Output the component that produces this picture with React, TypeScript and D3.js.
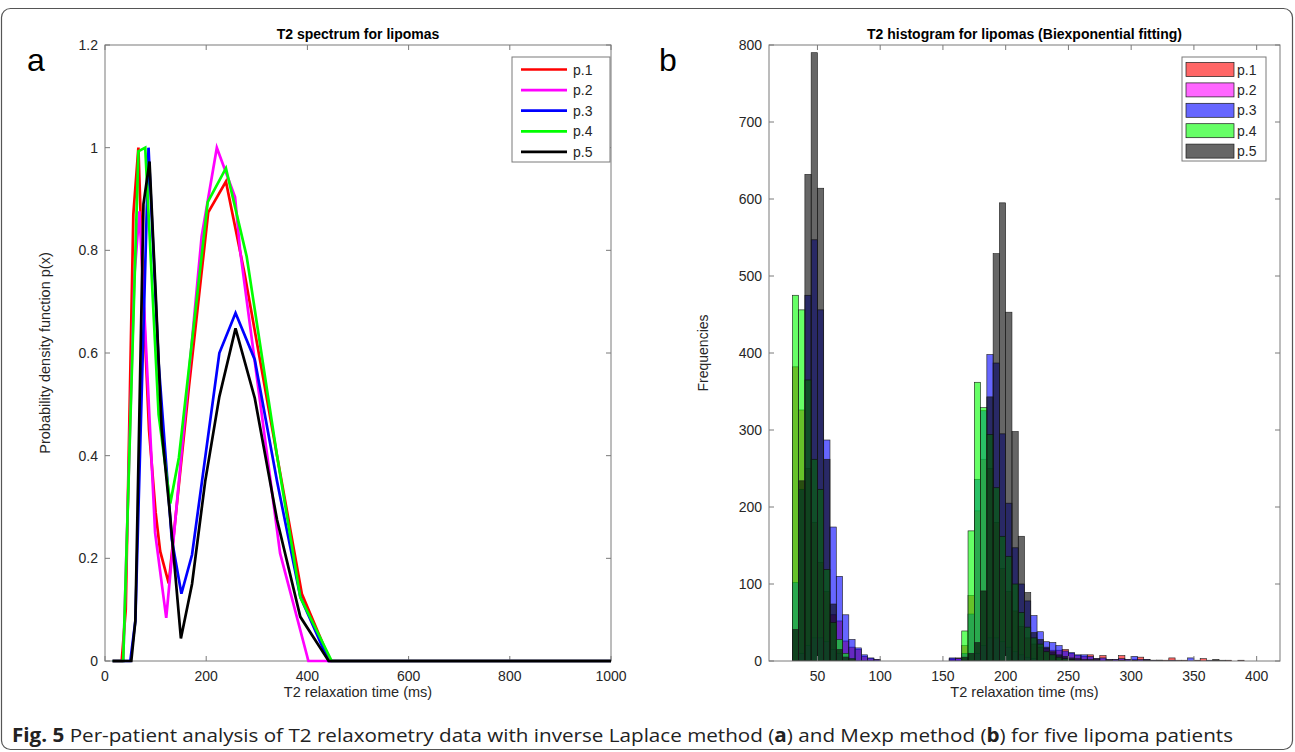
import React, { useEffect, useRef } from "react";
import * as d3 from "d3";

// patients and their colours (MATLAB default style)
const patients = ["p.1", "p.2", "p.3", "p.4", "p.5"];
const colors = ["#ff0000", "#ff00ff", "#0000ff", "#00ff00", "#000000"];

// panel a: T2 spectra, [T2 (ms), p(x)]
const spectrumP1 = [
  [15, 0], [33, 0], [41, 0.1], [56, 0.87], [66, 1.0], [76, 0.7], [87, 0.45], [100, 0.29],
  [109, 0.214], [126, 0.151], [166, 0.535], [204, 0.874], [239, 0.934], [276, 0.754],
  [340, 0.4], [389, 0.131], [445, 0], [1000, 0],
];
const spectrumP2 = [
  [15, 0], [36, 0], [45, 0.3], [58, 0.75], [68, 0.876], [99, 0.25], [121, 0.084],
  [191, 0.827], [221, 1.0], [257, 0.904], [267, 0.8], [346, 0.21], [402, 0], [1000, 0],
];
const spectrumP3 = [
  [15, 0], [50, 0], [60, 0.078], [86, 1.0], [106, 0.58], [132, 0.237], [151, 0.131],
  [172, 0.207], [226, 0.6], [258, 0.678], [296, 0.587], [340, 0.35], [386, 0.125],
  [442, 0], [1000, 0],
];
const spectrumP4 = [
  [15, 0], [36, 0], [66, 0.993], [79.5, 1.0], [106, 0.48], [129, 0.307], [146, 0.396],
  [203, 0.894], [239, 0.96], [280, 0.788], [340, 0.4], [386, 0.124], [448, 0], [1000, 0],
];
const spectrumP5 = [
  [15, 0], [52, 0], [60, 0.078], [76, 0.89], [88, 0.973], [100, 0.72], [112, 0.45],
  [129, 0.28], [150, 0.044], [172, 0.15], [198, 0.35], [226, 0.515], [258, 0.648],
  [296, 0.512], [340, 0.275], [386, 0.086], [442, 0], [1000, 0],
];
const spectra = [spectrumP1, spectrumP2, spectrumP3, spectrumP4, spectrumP5];
const xTicksA = [0, 200, 400, 600, 800, 1000];
const yTicksA = [0, 0.2, 0.4, 0.6, 0.8, 1, 1.2];

// panel b: histograms, [bin start (ms), count], bins 5 ms wide
const binWidth = 5;
const histP1 = [
  [30, 382], [35, 326], [40, 250], [45, 180], [50, 128], [55, 90], [60, 60], [65, 52],
  [70, 26], [75, 18], [80, 15], [85, 6], [90, 3], [95, 2],
  [155, 3], [160, 4], [165, 20], [170, 85], [175, 195], [180, 262], [185, 250], [190, 180],
  [195, 120], [200, 90], [205, 65], [210, 45], [215, 30], [220, 22], [225, 18], [230, 16],
  [235, 14], [240, 14], [245, 15], [250, 10], [255, 7], [260, 6], [265, 8], [270, 3],
  [275, 7], [280, 2], [285, 2], [290, 7], [295, 2], [300, 2], [305, 5], [310, 2], [315, 1],
  [320, 1], [325, 1], [330, 4], [335, 1], [340, 1], [350, 1], [355, 3], [365, 1], [375, 1],
  [385, 1],
];
const histP2 = [
  [35, 10], [40, 20], [45, 30], [50, 30], [55, 25], [60, 15], [65, 10], [70, 6], [75, 3],
  [155, 2], [160, 3], [175, 10], [180, 20], [185, 30], [190, 30], [195, 25], [200, 18],
  [205, 12], [210, 8], [215, 5], [220, 3],
];
const histP3 = [
  [30, 102], [35, 223], [40, 475], [45, 547], [50, 456], [55, 287], [60, 174], [65, 110],
  [70, 60], [75, 28], [80, 17], [85, 8], [90, 4], [95, 2],
  [155, 4], [160, 3], [165, 10], [170, 61], [175, 236], [180, 325], [185, 398], [190, 387],
  [195, 295], [200, 205], [205, 147], [210, 100], [215, 78], [220, 59], [225, 38], [230, 25],
  [235, 24], [240, 20], [245, 13], [250, 11], [255, 8], [260, 8], [265, 6], [270, 3],
  [275, 4], [280, 2], [285, 2], [290, 3], [295, 2], [300, 6], [305, 2], [310, 2], [315, 1],
  [320, 1], [330, 1], [345, 4], [360, 1],
];
const histP4 = [
  [30, 475], [35, 456], [40, 365], [45, 262], [50, 223], [55, 119], [60, 50], [65, 28],
  [70, 10], [75, 3],
  [165, 39], [170, 169], [175, 362], [180, 329], [185, 294], [190, 225], [195, 162],
  [200, 136], [205, 100], [210, 63], [215, 44], [220, 30], [225, 22], [230, 12], [235, 8],
  [240, 5], [245, 3], [250, 2],
];
const histP5 = [
  [30, 41], [35, 234], [40, 632], [45, 790], [50, 614], [55, 262], [60, 74], [65, 15],
  [70, 5], [75, 2],
  [165, 5], [170, 10], [175, 24], [180, 91], [185, 343], [190, 529], [195, 595], [200, 453],
  [205, 298], [210, 162], [215, 89], [220, 37], [225, 28], [230, 18], [235, 12], [240, 8],
  [245, 6], [250, 4], [255, 3], [260, 2], [265, 2], [270, 2], [280, 1], [290, 1], [300, 1],
  [310, 1], [320, 1], [365, 2], [370, 1],
];
const histograms = [histP1, histP2, histP3, histP4, histP5];
const xTicksB = [50, 100, 150, 200, 250, 300, 350, 400];
const yTicksB = [0, 100, 200, 300, 400, 500, 600, 700, 800];

const font = "'Liberation Sans', Arial, Helvetica, sans-serif";
const axisColor = "#7a7a7a";
const textColor = "#262626";

function drawFrame(svg, x, y, xTicks, yTicks) {
  const [x0, x1] = x.range();
  const [y0, y1] = y.range();
  const g = svg.append("g");
  const tick = 5;
  xTicks.forEach((t) => {
    const px = x(t);
    g.append("line").attr("x1", px).attr("x2", px).attr("y1", y0).attr("y2", y0 - tick)
      .attr("stroke", axisColor);
    g.append("line").attr("x1", px).attr("x2", px).attr("y1", y1).attr("y2", y1 + tick)
      .attr("stroke", axisColor);
    g.append("text").attr("x", px).attr("y", y0 + 20).attr("text-anchor", "middle")
      .attr("font-family", font).attr("font-size", 14).attr("fill", textColor).text(String(t));
  });
  yTicks.forEach((t) => {
    const py = y(t);
    g.append("line").attr("x1", x0).attr("x2", x0 + tick).attr("y1", py).attr("y2", py)
      .attr("stroke", axisColor);
    g.append("line").attr("x1", x1).attr("x2", x1 - tick).attr("y1", py).attr("y2", py)
      .attr("stroke", axisColor);
    g.append("text").attr("x", x0 - 7).attr("y", py + 5).attr("text-anchor", "end")
      .attr("font-family", font).attr("font-size", 14).attr("fill", textColor).text(String(t));
  });
  g.append("rect").attr("x", x0).attr("y", y1).attr("width", x1 - x0).attr("height", y0 - y1)
    .attr("fill", "none").attr("stroke", axisColor).attr("stroke-width", 1);
}

function App() {
  const ref = useRef(null);

  useEffect(() => {
    const svg = d3.select(ref.current);
    svg.selectAll("*").remove();

    // outer figure border
    svg.append("rect").attr("x", 1.5).attr("y", 8.5).attr("width", 1291).attr("height", 741)
      .attr("rx", 9).attr("fill", "#fff").attr("stroke", "#555").attr("stroke-width", 1.2);

    // ---------- panel a ----------
    const xA = d3.scaleLinear().domain([0, 1000]).range([105, 611]);
    const yA = d3.scaleLinear().domain([0, 1.2]).range([661, 45]);

    svg.append("clipPath").attr("id", "clipA").append("rect")
      .attr("x", 103).attr("y", 43).attr("width", 510).attr("height", 620);

    const line = d3.line().x((d) => xA(d[0])).y((d) => yA(d[1]));
    drawFrame(svg, xA, yA, xTicksA, yTicksA);
    const gLines = svg.append("g").attr("clip-path", "url(#clipA)");
    spectra.forEach((s, i) => {
      gLines.append("path").attr("d", line(s)).attr("fill", "none")
        .attr("stroke", colors[i]).attr("stroke-width", 2.7).attr("stroke-linejoin", "miter");
    });

    svg.append("text").attr("x", 358).attr("y", 39).attr("text-anchor", "middle")
      .attr("font-family", font).attr("font-size", 14).attr("font-weight", "bold")
      .attr("fill", "#000").text("T2 spectrum for lipomas");
    svg.append("text").attr("x", 358).attr("y", 697).attr("text-anchor", "middle")
      .attr("font-family", font).attr("font-size", 14.5).attr("fill", textColor)
      .text("T2 relaxation time (ms)");
    svg.append("text").attr("transform", "translate(50,353) rotate(-90)")
      .attr("text-anchor", "middle").attr("font-family", font).attr("font-size", 14.5)
      .attr("fill", textColor).text("Probability density function p(x)");

    const legA = svg.append("g");
    legA.append("rect").attr("x", 512).attr("y", 57).attr("width", 98).attr("height", 105)
      .attr("fill", "#fff").attr("stroke", axisColor);
    patients.forEach((p, i) => {
      const cy = 69.5 + i * 20.6;
      legA.append("line").attr("x1", 521).attr("x2", 567).attr("y1", cy).attr("y2", cy)
        .attr("stroke", colors[i]).attr("stroke-width", 2.7);
      legA.append("text").attr("x", 573).attr("y", cy + 5).attr("font-family", font)
        .attr("font-size", 14).attr("fill", textColor).text(p);
    });

    // ---------- panel b ----------
    const xB = d3.scaleLinear().domain([11.4, 418.6]).range([769, 1280]);
    const yB = d3.scaleLinear().domain([0, 800]).range([661, 45]);

    svg.append("clipPath").attr("id", "clipB").append("rect")
      .attr("x", 769).attr("y", 45).attr("width", 511).attr("height", 616);
    const gBars = svg.append("g").attr("clip-path", "url(#clipB)");
    histograms.forEach((h, i) => {
      gBars.selectAll(null).data(h).enter().append("rect")
        .attr("x", (d) => xB(d[0]))
        .attr("width", (d) => xB(d[0] + binWidth) - xB(d[0]))
        .attr("y", (d) => yB(d[1]))
        .attr("height", (d) => yB(0) - yB(d[1]))
        .attr("fill", colors[i]).attr("fill-opacity", 0.6)
        .attr("stroke", "#1a1a1a").attr("stroke-width", 0.6);
    });
    drawFrame(svg, xB, yB, xTicksB, yTicksB);

    svg.append("text").attr("x", 1024.5).attr("y", 39).attr("text-anchor", "middle")
      .attr("font-family", font).attr("font-size", 14).attr("font-weight", "bold")
      .attr("fill", "#000").text("T2 histogram for lipomas (Biexponential fitting)");
    svg.append("text").attr("x", 1024.5).attr("y", 697).attr("text-anchor", "middle")
      .attr("font-family", font).attr("font-size", 14.5).attr("fill", textColor)
      .text("T2 relaxation time (ms)");
    svg.append("text").attr("transform", "translate(708,353) rotate(-90)")
      .attr("text-anchor", "middle").attr("font-family", font).attr("font-size", 14)
      .attr("fill", textColor).text("Frequencies");

    const legB = svg.append("g");
    legB.append("rect").attr("x", 1182).attr("y", 57).attr("width", 84).attr("height", 104)
      .attr("fill", "#fff").attr("stroke", axisColor);
    patients.forEach((p, i) => {
      const cy = 69.5 + i * 20.4;
      legB.append("rect").attr("x", 1186).attr("y", cy - 7).attr("width", 48).attr("height", 14)
        .attr("fill", colors[i]).attr("fill-opacity", 0.6)
        .attr("stroke", "#1a1a1a").attr("stroke-width", 0.7);
      legB.append("text").attr("x", 1237).attr("y", cy + 5).attr("font-family", font)
        .attr("font-size", 14).attr("fill", textColor).text(p);
    });

    // panel letters
    svg.append("text").attr("x", 27).attr("y", 71).attr("font-family", font)
      .attr("font-size", 32).attr("fill", "#000").text("a");
    svg.append("text").attr("x", 659).attr("y", 71).attr("font-family", font)
      .attr("font-size", 32).attr("fill", "#000").text("b");

    // caption
    const cap = svg.append("text").attr("x", 12).attr("y", 742)
      .attr("font-family", "'Open Sans', 'Noto Sans', sans-serif").attr("font-size", 19)
      .attr("fill", "#222").attr("textLength", 1221).attr("lengthAdjust", "spacingAndGlyphs");
    cap.append("tspan").attr("font-weight", "bold").text("Fig. 5");
    cap.append("tspan").text(" Per-patient analysis of T2 relaxometry data with inverse Laplace method (");
    cap.append("tspan").attr("font-weight", "bold").text("a");
    cap.append("tspan").text(") and Mexp method (");
    cap.append("tspan").attr("font-weight", "bold").text("b");
    cap.append("tspan").text(") for five lipoma patients");
  }, []);

  return (
    <svg
      ref={ref}
      width={1295}
      height={752}
      style={{ position: "absolute", left: 0, top: 0, background: "#fff" }}
    />
  );
}

export default App;
